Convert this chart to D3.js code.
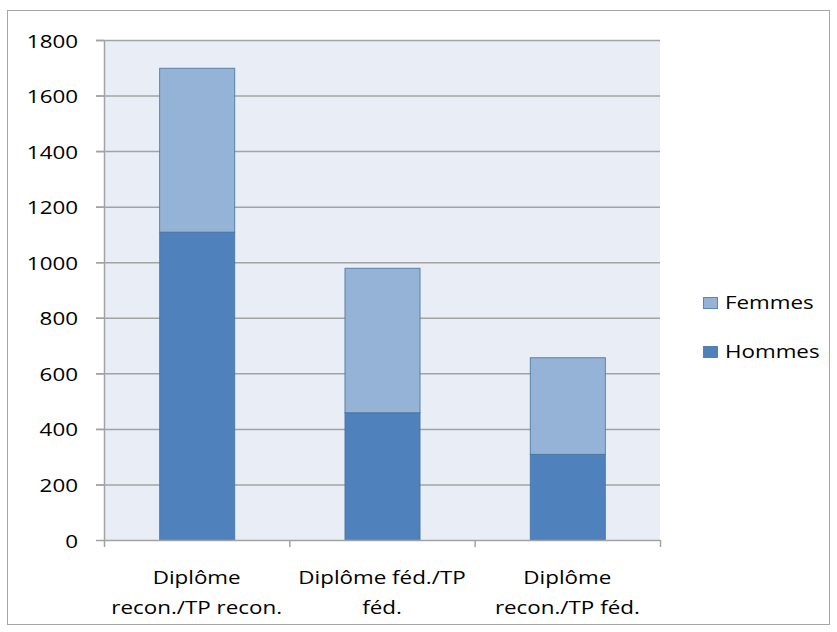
<!DOCTYPE html>
<html>
<head>
<meta charset="utf-8">
<script src="https://cdn.jsdelivr.net/npm/d3@7"></script>
<style>
  body { margin: 0; background: #fff; }
  text { font-family: "Open Sans", Lato, sans-serif; fill: #000; font-size: 18.5px; }
</style>
</head>
<body>
<svg id="chart" width="837" height="632"></svg>
<script>
const categories = [["Diplôme", "recon./TP recon."], ["Diplôme féd./TP", "féd."], ["Diplôme", "recon./TP féd."]];
const hommes = [1110, 460, 310];
const femmes = [590, 520, 348];
const yTicks = [0, 200, 400, 600, 800, 1000, 1200, 1400, 1600, 1800];
const seriesNames = ["Hommes", "Femmes"];
const seriesColors = ["#4f81bd", "#95b3d7"];

const svg = d3.select('#chart');
const plot = { left: 104, top: 40, right: 660, bottom: 540 };
// the reference text is drawn a bit wide
const stretch = 'scale(1.21,1)';

// outer frame
svg.append('rect')
  .attr('x', 7.5).attr('y', 10.5)
  .attr('width', 822).attr('height', 614)
  .attr('fill', '#fff')
  .attr('stroke', '#a6a6a6');

svg.append('rect')
  .attr('x', plot.left).attr('y', plot.top)
  .attr('width', plot.right - plot.left).attr('height', plot.bottom - plot.top)
  .attr('fill', '#e9edf6');

let x = d3.scaleBand()
  .domain(d3.range(categories.length))
  .range([plot.left, plot.right])
  .paddingInner(0.595)
  .paddingOuter(0.2975);

let y = d3.scaleLinear()
  .domain([0, 1800])
  .range([plot.bottom, plot.top]);

// gridlines
svg.append('g')
  .selectAll('line')
  .data(yTicks.filter(d => d > 0))
  .join('line')
  .attr('x1', plot.left - 8).attr('x2', plot.right)
  .attr('y1', d => y(d) + 0.5).attr('y2', d => y(d) + 0.5)
  .attr('stroke', '#a3a3a3')
  .attr('stroke-width', 1.5);

// stacked bars
let stackData = categories.map((c, i) => ({ i: i, Hommes: hommes[i], Femmes: femmes[i] }));
let stacked = d3.stack().keys(seriesNames)(stackData);

svg.append('g')
  .selectAll('g')
  .data(stacked)
  .join('g')
  .attr('fill', (d, i) => seriesColors[i])
  .selectAll('rect')
  .data(d => d)
  .join('rect')
  .attr('x', d => x(d.data.i) + 0.5)
  .attr('y', d => y(d[1]) + 0.5)
  .attr('width', x.bandwidth())
  .attr('height', d => y(d[0]) - y(d[1]))
  .attr('stroke', '#41719c')
  .attr('stroke-opacity', 0.8)
  .attr('stroke-width', 1);

// y axis
svg.append('line')
  .attr('x1', plot.left + 0.5).attr('x2', plot.left + 0.5)
  .attr('y1', plot.top).attr('y2', plot.bottom)
  .attr('stroke', '#a3a3a3').attr('stroke-width', 1.5);

svg.append('g')
  .selectAll('line')
  .data(yTicks)
  .join('line')
  .attr('x1', plot.left - 8).attr('x2', plot.left)
  .attr('y1', d => y(d) + 0.5).attr('y2', d => y(d) + 0.5)
  .attr('stroke', '#a3a3a3').attr('stroke-width', 1.5);

svg.append('g')
  .selectAll('text')
  .data(yTicks)
  .join('text')
  .attr('transform', d => 'translate(78,' + (y(d) + 7.5) + ') ' + stretch)
  .attr('text-anchor', 'end')
  .text(d => d);

// x axis
svg.append('line')
  .attr('x1', plot.left).attr('x2', plot.right)
  .attr('y1', plot.bottom + 0.5).attr('y2', plot.bottom + 0.5)
  .attr('stroke', '#a3a3a3').attr('stroke-width', 1.5);

let xTickPos = d3.range(categories.length + 1).map(i => plot.left + i * x.step());
svg.append('g')
  .selectAll('line')
  .data(xTickPos)
  .join('line')
  .attr('x1', d => d + 0.5).attr('x2', d => d + 0.5)
  .attr('y1', plot.bottom).attr('y2', plot.bottom + 7)
  .attr('stroke', '#a3a3a3').attr('stroke-width', 1.5);

let catGroups = svg.append('g')
  .selectAll('g')
  .data(categories)
  .join('g');

catGroups.selectAll('text')
  .data((d, i) => d.map(t => ({ t: t, i: i })))
  .join('text')
  .attr('text-anchor', 'middle')
  .attr('transform', (d, j) => 'translate(' + (x(d.i) + x.bandwidth() / 2) + ',' + (584 + j * 30) + ') ' + stretch)
  .text(d => d.t);

// legend
let legendItems = [
  { name: "Femmes", color: seriesColors[1], y: 297 },
  { name: "Hommes", color: seriesColors[0], y: 346 }
];
let legend = svg.append('g');
legend.selectAll('rect')
  .data(legendItems)
  .join('rect')
  .attr('x', 703.5).attr('y', d => d.y + 0.5)
  .attr('width', 14).attr('height', 11)
  .attr('fill', d => d.color)
  .attr('stroke', '#41719c').attr('stroke-opacity', 0.8);

legend.selectAll('text')
  .data(legendItems)
  .join('text')
  .attr('transform', d => 'translate(725,' + (d.y + 11.5) + ') ' + stretch)
  .text(d => d.name);
</script>
</body>
</html>
